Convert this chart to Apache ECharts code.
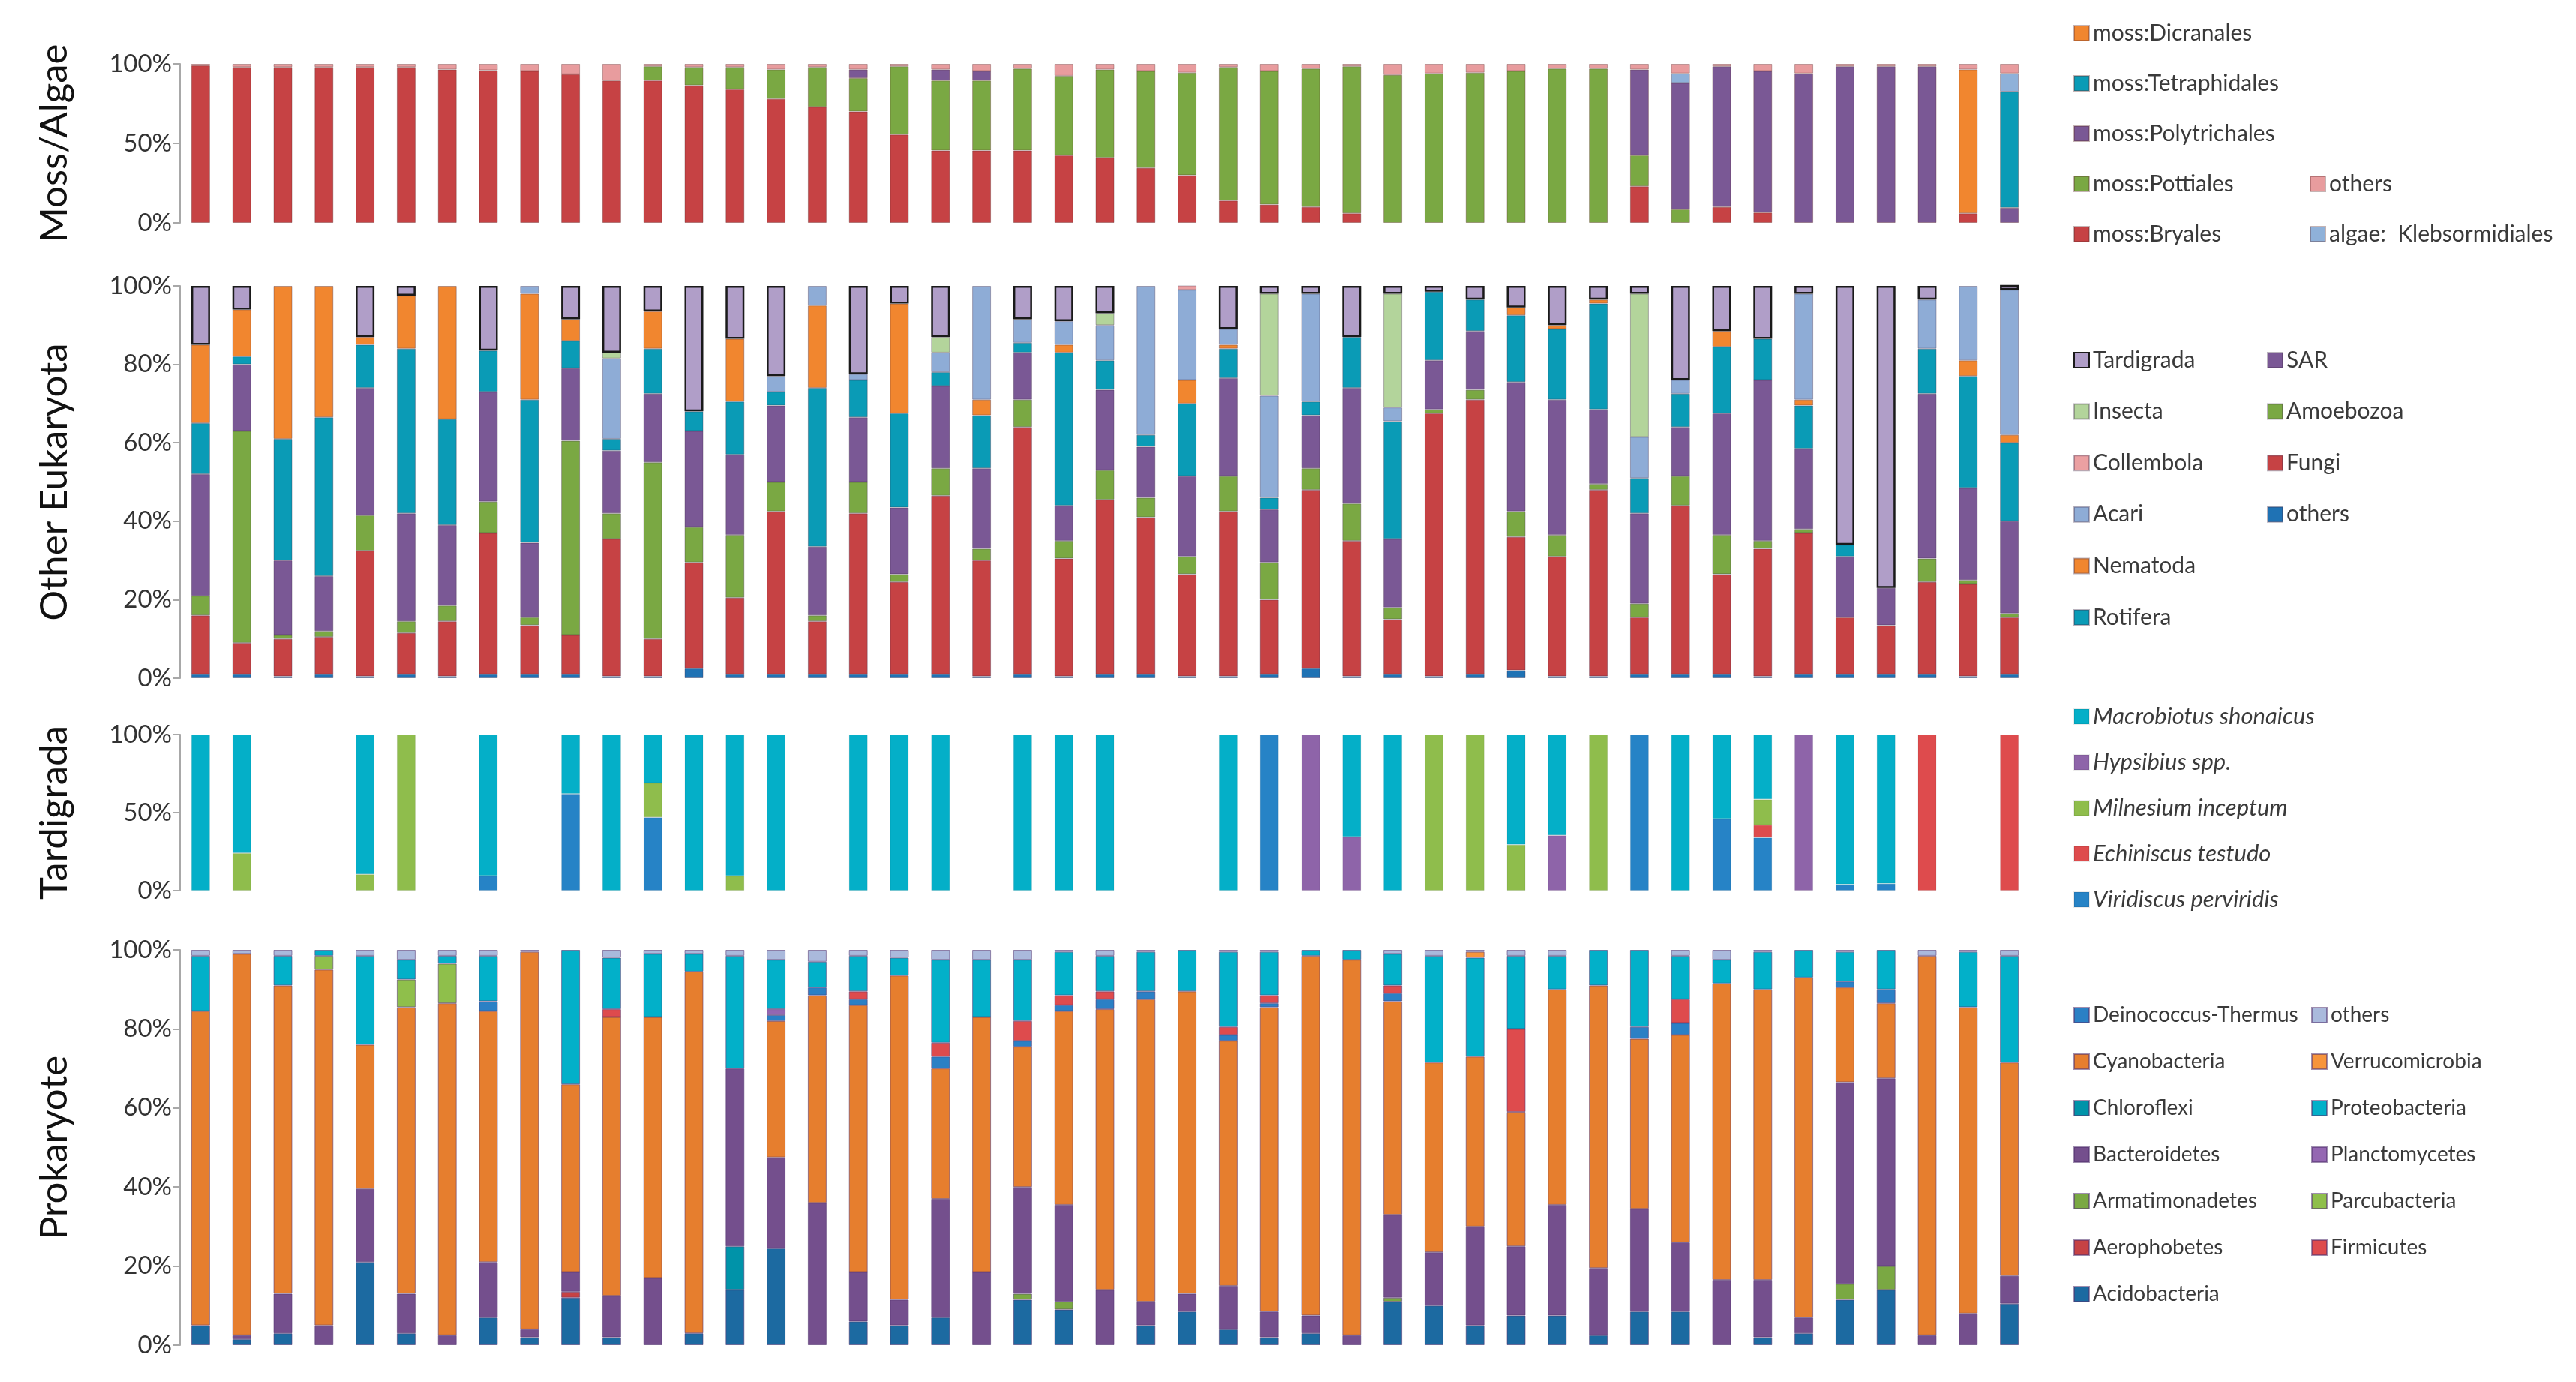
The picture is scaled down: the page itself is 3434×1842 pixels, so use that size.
<!DOCTYPE html>
<html>
<head>
<meta charset="utf-8">
<title>Community composition per sample</title>
<script src="https://cdn.jsdelivr.net/npm/echarts@6/dist/echarts.min.js"></script>
<style>
  html, body { margin: 0; padding: 0; background: #fff; }
  #chart { width: 3434px; height: 1842px; }
</style>
</head>
<body>
<div id="chart"></div>
<script>
// sample order is the same in all four panels
const samples = ['S01','S02','S03','S04','S05','S06','S07','S08','S09','S10',
  'S11','S12','S13','S14','S15','S16','S17','S18','S19','S20',
  'S21','S22','S23','S24','S25','S26','S27','S28','S29','S30',
  'S31','S32','S33','S34','S35','S36','S37','S38','S39','S40',
  'S41','S42','S43','S44','S45'];

// ---- Moss / Algae (%) ----
const mossBryales = [99,98,98,98,98,98,96.5,96,95.5,93.5, 89.5,89.5,86.5,84,78,73,70,55.5,45.5,45.5,
  45.5,42.5,41,34.5,30,14,11.5,10,6,0, 0,0,0,0,0,23,0,10,6.5,0, 0,0,0,6,0];
const mossPottiales = [0,0,0,0,0,0,0,0,0,0, 0,9,11.5,14,18.5,25,21,43,44,44,
  51.5,50,55.5,61,64.5,84,84,87,92.5,93, 94,94.5,95.5,97,97,19.5,8.5,0,0,0, 0,0,0,0,0];
const mossPolytrichales = [0,0,0,0,0,0,0,0,0,0, 0,0,0,0,0,0,5.5,0,7,6,
  0,0,0,0,0,0,0,0,0,0, 0,0,0,0,0,54,79.5,88.5,89,94, 98.5,98.5,98.5,0,9.5];
const mossTetraphidales = [0,0,0,0,0,0,0,0,0,0, 0,0,0,0,0,0,0,0,0,0,
  0,0,0,0,0,0,0,0,0,0, 0,0,0,0,0,0,0,0,0,0, 0,0,0,0,73];
const mossDicranales = [0,0,0,0,0,0,0,0,0,0, 0,0,0,0,0,0,0,0,0,0,
  0,0,0,0,0,0,0,0,0,0, 0,0,0,0,0,0,0,0,0,0, 0,0,0,90.5,0];
const algaeKlebsormidiales = [0,0,0,0,0,0,0,0,0,0, 0,0,0,0,0,0,0,0,0,0,
  0,0,0,0,0,0,0,0,0,0, 0,0,0,0,0,0,6,0,0,0, 0,0,0,0,11.5];
const mossOthers = [1,2,2,2,2,2,3.5,4,4.5,6.5, 10.5,1.5,2,2,3.5,2,3.5,1.5,3.5,4.5,
  3,7.5,3.5,4.5,5.5,2,4.5,3,1.5,7, 6,5.5,4.5,3,3,3.5,6,1.5,4.5,6, 1.5,1.5,1.5,3.5,6];

// ---- Other Eukaryota (%) ----
const eukOthers = [1,1,0.5,1,0.5,1,0.5,1,1,1, 0.5,0.5,2.5,1,1,1,1,1,1,0.5,
  1,0.5,1,1,0.5,0.5,1,2.5,0.5,1, 0.5,1,2,0.5,0.5,1,1,1,0.5,1, 1,1,1,0.5,1];
const eukFungi = [15,8,9.5,9.5,32,10.5,14,36,12.5,10, 35,9.5,27,19.5,41.5,13.5,41,23.5,45.5,29.5,
  63,30,44.5,40,26,42,19,45.5,34.5,14, 67,70,34,30.5,47.5,14.5,43,25.5,32.5,36, 14.5,12.5,23.5,23.5,14.5];
const eukAmoebozoa = [5,54,1,1.5,9,3,4,8,2,49.5, 6.5,45,9,16,7.5,1.5,8,2,7,3,
  7,4.5,7.5,5,4.5,9,9.5,5.5,9.5,3, 1,2.5,6.5,5.5,1.5,3.5,7.5,10,2,1, 0,0,6,1,1];
const eukSAR = [31,17,19,14,32.5,27.5,20.5,28,19,18.5, 16,17.5,24.5,20.5,19.5,17.5,16.5,17,21,20.5,
  12,9,20.5,13,20.5,25,13.5,13.5,29.5,17.5, 12.5,15,33,34.5,19,23,12.5,31,41,20.5, 15.5,9.5,42,23.5,23.5];
const eukRotifera = [13,2,31,40.5,11,42,27,10.5,36.5,7, 3,11.5,5,13.5,3.5,40.5,9.5,24,3.5,13.5,
  2.5,39,7.5,3,18.5,7.5,3,3.5,13,30, 17.5,8,17,18,27,9,8.5,17,10.5,11, 3,0,11.5,28.5,20];
const eukNematoda = [20,12,39,33.5,2,13.5,34,0,27,5.5, 0,9.5,0,16,0,21,0,28,0,4,
  0,2,0,0,6,1,0,0,0,0, 0,0,2,1,1,0,0,4,0,1.5, 0,0,0,4,2];
const eukAcari = [0,0,0,0,0,0,0,0,2,0, 20.5,0,0,0,4,5,1.5,0,5,29,
  6,6,9,38,23,4,26,27.5,0,3.5, 0,0,0,0,0,10.5,3.5,0,0,27, 0,0,12.5,19,37];
const eukCollembola = [0,0,0,0,0,0,0,0,0,0, 0,0,0,0,0,0,0,0,0,0,
  0,0,0,0,1.5,0,0,0,0,0, 0,0,0,0,0,0,0,0,0,0, 0,0,0,0,0];
const eukInsecta = [0,0,0,0,0,0,0,0,0,0, 1.5,0,0,0,0,0,0,0,4,0,
  0,0,3,0,0,0,26,0,0,29, 0,0,0,0,0,36.5,0,0,0,0, 0,0,0,0,0];
const eukTardigrada = [15,6,0,0,13,2.5,0,16.5,0,8.5, 17,6.5,32,13.5,23,0,22.5,4.5,13,0,
  8.5,9,7,0,0,11,2,2,13,2, 1.5,3.5,5.5,10,3.5,2,24,11.5,13.5,2, 66,77,3.5,0,1.5];

// ---- Tardigrada (%) ; null = no tardigrade reads ----
const tardViridiscus = [0,0,null,null,0,0,null,9.5,null,62, 0,47,0,0,0,null,0,0,0,null,
  0,0,0,null,null,0,100,0,0,0, 0,0,0,0,0,100,0,46,34,0, 4,4.5,0,null,0];
const tardEchiniscus = [0,0,null,null,0,0,null,0,null,0, 0,0,0,0,0,null,0,0,0,null,
  0,0,0,null,null,0,0,0,0,0, 0,0,0,0,0,0,0,0,8,0, 0,0,100,null,100];
const tardMilnesium = [0,24,null,null,10.5,100,null,0,null,0, 0,22,0,9.5,0,null,0,0,0,null,
  0,0,0,null,null,0,0,0,0,0, 100,100,29.5,0,100,0,0,0,16.5,0, 0,0,0,null,0];
const tardHypsibius = [0,0,null,null,0,0,null,0,null,0, 0,0,0,0,0,null,0,0,0,null,
  0,0,0,null,null,0,0,100,34.5,0, 0,0,0,35.5,0,0,0,0,0,100, 0,0,0,null,0];
const tardMacrobiotus = [100,76,null,null,89.5,0,null,90.5,null,38, 100,31,100,90.5,100,null,100,100,100,null,
  100,100,100,null,null,100,0,0,65.5,100, 0,0,70.5,64.5,0,0,100,54,41.5,0, 96,95.5,0,null,0];

// ---- Prokaryote (%) ----
const prokAcidobacteria = [5,1.5,3,0,21,3,0,7,2,12, 2,0,3,14,24.5,0,6,5,7,0,
  11.5,9,0,5,8.5,4,2,3,0,11, 10,5,7.5,7.5,2.5,8.5,8.5,0,2,3, 11.5,14,0,0,10.5];
const prokAerophobetes = [0,0,0,0,0,0,0,0,0,1.5, 0,0,0,0,0,0,0,0,0,0,
  0,0,0,0,0,0,0,0,0,0, 0,0,0,0,0,0,0,0,0,0, 0,0,0,0,0];
const prokArmatimonadetes = [0,0,0,0,0,0,0,0,0,0, 0,0,0,0,0,0,0,0,0,0,
  1.5,2,0,0,0,0,0,0,0,1, 0,0,0,0,0,0,0,0,0,0, 4,6,0,0,0];
const prokChloroflexi = [0,0,0,0,0,0,0,0,0,0, 0,0,0,11,0,0,0,0,0,0,
  0,0,0,0,0,0,0,0,0,0, 0,0,0,0,0,0,0,0,0,0, 0,0,0,0,0];
const prokBacteroidetes = [0,1,10,5,18.5,10,2.5,14,2,5, 10.5,17,0,45,23,36,12.5,6.5,30,18.5,
  27,24.5,14,6,4.5,11,6.5,4.5,2.5,21, 13.5,25,17.5,28,17,26,17.5,16.5,14.5,4, 51,47.5,2.5,8,7];
const prokCyanobacteria = [79.5,96.5,78,90,36.5,72.5,84,63.5,95.5,47.5, 70.5,66,91.5,0,34.5,52.5,67.5,82,33,64.5,
  35.5,49,71,76.5,76.5,62,77,91,95,54, 48,43,34,54.5,71.5,43,52.5,75,73.5,86, 24,19,96,77.5,54];
const prokDeinococcus = [0,0,0,0,0,0,0,2.5,0,0, 0,0,0,0,1.5,2,1.5,0,3,0,
  1.5,1.5,2.5,2,0,1.5,1,0,0,2, 0,0,0,0,0,3,3,0,0,0, 1.5,3.5,0,0,0];
const prokFirmicutes = [0,0,0,0,0,0,0,0,0,0, 2,0,0,0,0,0,2,0,3.5,0,
  5,2.5,2,0,0,2,2,0,0,2, 0,0,21,0,0,0,6,0,0,0, 0,0,0,0,0];
const prokParcubacteria = [0,0,0,3.5,0,7,10,0,0,0, 0,0,0,0,0,0,0,0,0,0,
  0,0,0,0,0,0,0,0,0,0, 0,0,0,0,0,0,0,0,0,0, 0,0,0,0,0];
const prokPlanctomycetes = [0,0,0,0,0,0,0,0,0,0, 0,0,0,0,1.5,0,0,0,0,0,
  0,0,0,0,0,0,0,0,0,0, 0,0,0,0,0,0,0,0,0,0, 0,0,0,0,0];
const prokProteobacteria = [14,0,7.5,1.5,22.5,5,2,11.5,0,34, 13,16,4.5,28.5,12.5,6.5,9,4.5,21,14.5,
  15.5,11,9,10,10.5,19,11,1.5,2.5,8, 27,25,18.5,8.5,9,19.5,11,6,9.5,7, 7.5,10,0,14,27];
const prokVerrucomicrobia = [0,0,0,0,0,0,0,0,0,0, 0,0,0,0,0,0,0,0,0,0,
  0,0,0,0,0,0,0,0,0,0, 0,1.5,0,0,0,0,0,0,0,0, 0,0,0,0,0];
const prokOthers = [1.5,1,1.5,0,1.5,2.5,1.5,1.5,0.5,0, 2,1,1,1.5,2.5,3,1.5,2,2.5,2.5,
  2.5,0.5,1.5,0.5,0,0.5,0.5,0,0,1, 1.5,0.5,1.5,1.5,0,0,1.5,2.5,0.5,0, 0.5,0,1.5,0.5,1.5];

const FONT = 'Lato, "Open Sans", sans-serif';

// legend names must be unique, so "others" gets a hidden suffix
const label = n => n.split('#')[0];

// stack order = bottom to top
const panels = [
  { title: 'Moss/Algae', step: 50, border: 'rgba(90,40,40,0.35)', list: [
    ['moss:Bryales', mossBryales, '#c64244'],
    ['moss:Pottiales', mossPottiales, '#7aa843'],
    ['moss:Polytrichales', mossPolytrichales, '#7a5895'],
    ['moss:Tetraphidales', mossTetraphidales, '#0a9bb6'],
    ['moss:Dicranales', mossDicranales, '#f1862f'],
    ['algae:  Klebsormidiales', algaeKlebsormidiales, '#8fb1d9'],
    ['others#moss', mossOthers, '#e89c9e']
  ]},
  { title: 'Other Eukaryota', step: 20, border: 'rgba(60,40,70,0.35)', list: [
    ['others#euk', eukOthers, '#1f72b4'],
    ['Fungi', eukFungi, '#c64244'],
    ['Amoebozoa', eukAmoebozoa, '#7aa843'],
    ['SAR', eukSAR, '#7a5895'],
    ['Rotifera', eukRotifera, '#0a9bb6'],
    ['Nematoda', eukNematoda, '#f1862f'],
    ['Acari', eukAcari, '#8eacd6'],
    ['Collembola', eukCollembola, '#eba0a2'],
    ['Insecta', eukInsecta, '#b3d49b'],
    ['Tardigrada', eukTardigrada, '#b09ec8']
  ]},
  { title: 'Tardigrada', step: 50, border: 'rgba(0,0,0,0.08)', list: [
    ['Viridiscus perviridis', tardViridiscus, '#2683c6'],
    ['Echiniscus testudo', tardEchiniscus, '#de4b4d'],
    ['Milnesium inceptum', tardMilnesium, '#8fbd4c'],
    ['Hypsibius spp.', tardHypsibius, '#8e64a9'],
    ['Macrobiotus shonaicus', tardMacrobiotus, '#04afc8']
  ]},
  { title: 'Prokaryote', step: 20, border: 'rgba(80,50,110,0.55)', list: [
    ['Acidobacteria', prokAcidobacteria, '#1c6aa1'],
    ['Aerophobetes', prokAerophobetes, '#c64244'],
    ['Armatimonadetes', prokArmatimonadetes, '#7aa843'],
    ['Chloroflexi', prokChloroflexi, '#0093a9'],
    ['Bacteroidetes', prokBacteroidetes, '#744f8d'],
    ['Cyanobacteria', prokCyanobacteria, '#e67e2e'],
    ['Deinococcus-Thermus', prokDeinococcus, '#2b80c5'],
    ['Firmicutes', prokFirmicutes, '#de4b4d'],
    ['Parcubacteria', prokParcubacteria, '#8fbf4b'],
    ['Planctomycetes', prokPlanctomycetes, '#9467b2'],
    ['Proteobacteria', prokProteobacteria, '#02b0c9'],
    ['Verrucomicrobia', prokVerrucomicrobia, '#f7943b'],
    ['others#prok', prokOthers, '#aab9dc']
  ]}
];

const gridBoxes = [
  { top: 85, height: 212 },
  { top: 381, height: 523 },
  { top: 979, height: 208 },
  { top: 1266, height: 527 }
];

const grid = [], xAxis = [], yAxis = [], series = [];
panels.forEach(function (p, i) {
  grid.push({ left: 240, width: 2466, top: gridBoxes[i].top, height: gridBoxes[i].height });
  xAxis.push({ type: 'category', gridIndex: i, data: samples, show: false });
  yAxis.push({
    type: 'value', gridIndex: i, min: 0, max: 100, interval: p.step,
    name: p.title, nameLocation: 'middle', nameRotate: 90, nameGap: 142,
    nameTextStyle: { fontSize: 51, color: '#111', fontFamily: FONT },
    axisLine: { show: true, lineStyle: { color: '#a8a8a8', width: 2 } },
    axisTick: { show: true, length: 9, lineStyle: { color: '#a8a8a8', width: 2 } },
    splitLine: { show: false },
    axisLabel: { formatter: '{value}%', fontSize: 33, color: '#333', fontFamily: FONT, margin: 11 }
  });
  p.list.forEach(function (s) {
    const isTard = s[0] === 'Tardigrada';
    series.push({
      name: s[0], type: 'bar', stack: 'p' + i,
      xAxisIndex: i, yAxisIndex: i, barWidth: 25,
      data: s[1].map(v => (v === 0 ? null : v)),
      itemStyle: {
        color: s[2],
        borderColor: isTard ? '#1a1a1a' : p.border,
        borderWidth: isTard ? 2.5 : 1
      },
      emphasis: { disabled: true }
    });
  });
});

const txt = (size, italic) => ({ fontSize: size, color: '#3a3a3a', fontFamily: FONT, lineHeight: 34, fontStyle: italic ? 'italic' : 'normal' });
const legendBase = {
  orient: 'vertical', padding: 0, itemWidth: 20, itemHeight: 20, icon: 'rect',
  selectedMode: false, formatter: label, textStyle: txt(30)
};
const legends = [
  { left: 2764, top: 27, itemGap: 33, data: ['moss:Dicranales','moss:Tetraphidales','moss:Polytrichales','moss:Pottiales','moss:Bryales'] },
  { left: 3079, top: 228, itemGap: 33, data: ['others#moss','algae:  Klebsormidiales'] },
  { left: 2764, top: 463, itemGap: 34.6, data: ['Tardigrada','Insecta','Collembola','Acari','Nematoda','Rotifera'] },
  { left: 3022, top: 463, itemGap: 34.6, data: ['SAR','Amoebozoa','Fungi','others#euk'] },
  { left: 2764, top: 938, itemGap: 27, textStyle: txt(31, true),
    data: ['Macrobiotus shonaicus','Hypsibius spp.','Milnesium inceptum','Echiniscus testudo','Viridiscus perviridis'] },
  { left: 2764, top: 1336, itemGap: 28, textStyle: txt(28),
    data: ['Deinococcus-Thermus','Cyanobacteria','Chloroflexi','Bacteroidetes','Armatimonadetes','Aerophobetes','Acidobacteria'] },
  { left: 3081, top: 1336, itemGap: 28, textStyle: txt(28),
    data: ['others#prok','Verrucomicrobia','Proteobacteria','Planctomycetes','Parcubacteria','Firmicutes'] }
].map(l => Object.assign({}, legendBase, l));

const chart = echarts.init(document.getElementById('chart'));
chart.setOption({
  backgroundColor: '#fff',
  animation: false,
  grid: grid,
  xAxis: xAxis,
  yAxis: yAxis,
  legend: legends,
  series: series
});
window.addEventListener('resize', () => chart.resize());
</script>
</body>
</html>
